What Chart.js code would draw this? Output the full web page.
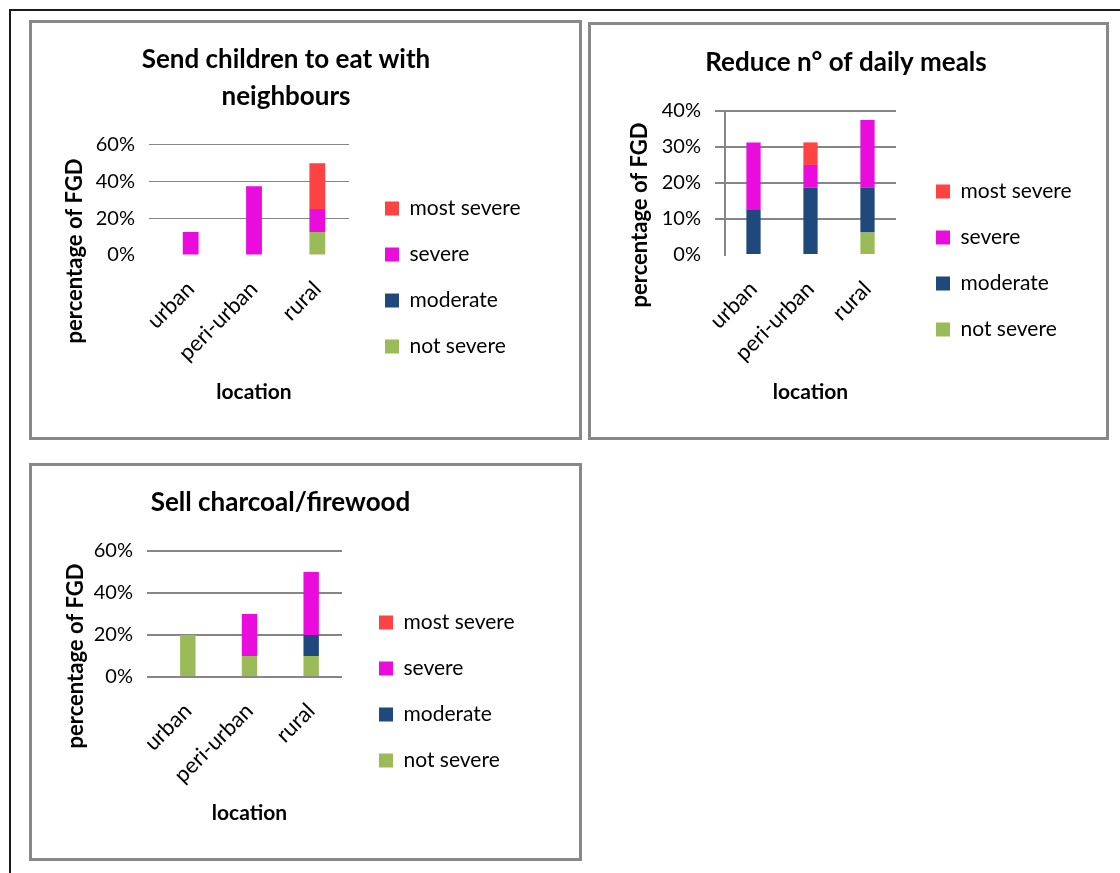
<!DOCTYPE html>
<html>
<head>
<meta charset="utf-8">
<script src="https://cdn.jsdelivr.net/npm/chart.js@4.4.1/dist/chart.umd.min.js"></script>
<style>
  html, body { margin: 0; padding: 0; background: #fff; }
  body { width: 1120px; height: 873px; position: relative; overflow: hidden; }
  .frame { position: absolute; left: 9px; top: 9px; width: 1200px; height: 900px;
           border-top: 2px solid #1a1a1a; border-left: 2px solid #1a1a1a; }
  .panel { position: absolute; border: 3px solid #888; background: #fff; }
  .panel canvas { display: block; }
  #p1 { left: 29px; top: 20px; width: 547px; height: 414px; }
  #p2 { left: 588px; top: 22px; width: 515px; height: 412px; }
  #p3 { left: 29px; top: 463px; width: 547px; height: 392px; }
</style>
</head>
<body>
<div class="frame"></div>
<div class="panel" id="p1"><canvas id="c1" width="547" height="414"></canvas></div>
<div class="panel" id="p2"><canvas id="c2" width="515" height="412"></canvas></div>
<div class="panel" id="p3"><canvas id="c3" width="547" height="392"></canvas></div>
<script>
  // categories and series
  const locations = ["urban", "peri-urban", "rural"];
  const severityLabels = ["not severe", "moderate", "severe", "most severe"];
  const severityColors = ["#9BBB59", "#1F497D", "#E90CDC", "#FF4343"];

  // Send children to eat with neighbours (% of FGD)
  const sendNotSevere = [0, 0, 12.5];
  const sendModerate = [0, 0, 0];
  const sendSevere = [12.5, 37.5, 12.5];
  const sendMostSevere = [0, 0, 25];

  // Reduce n° of daily meals
  const mealsNotSevere = [0, 0, 6.25];
  const mealsModerate = [12.5, 18.75, 12.5];
  const mealsSevere = [18.75, 6.25, 18.75];
  const mealsMostSevere = [0, 6.25, 0];

  // Sell charcoal/firewood
  const charcoalNotSevere = [20, 10, 10];
  const charcoalModerate = [0, 0, 10];
  const charcoalSevere = [0, 20, 30];
  const charcoalMostSevere = [0, 0, 0];

  // y tick settings
  const sendTicks = { max: 60, step: 20 };
  const mealsTicks = { max: 40, step: 10 };
  const charcoalTicks = { max: 60, step: 20 };

  const FONT = "Lato";
  const GRID = "#868686";

  // rotated y axis title, centred like Excel does it
  const yAxisTitle = {
    id: "yAxisTitle",
    afterDraw(chart, args, opts) {
      const ctx = chart.ctx;
      ctx.save();
      ctx.translate(opts.x, opts.y);
      ctx.rotate(-Math.PI / 2);
      ctx.font = "bold 22px " + FONT;
      ctx.fillStyle = "#000";
      ctx.textAlign = "center";
      ctx.textBaseline = "middle";
      ctx.fillText(opts.text, 0, 0);
      ctx.restore();
    },
  };

  // fixed legend width (default layout caps side boxes too narrow here)
  const legendWidth = {
    id: "legendWidth",
    afterInit(chart, args, opts) {
      const lg = chart.legend;
      if (!lg || !opts.width) return;
      const fit = lg.fit;
      lg.fit = function () {
        fit.call(this);
        this.width = opts.width;
      };
    },
  };

  function makeChart(id, o) {
    const series = [o.notSevere, o.moderate, o.severe, o.mostSevere];
    const ctx = document.getElementById(id).getContext("2d");
    return new Chart(ctx, {
      type: "bar",
      plugins: [yAxisTitle, legendWidth],
      data: {
        labels: locations,
        datasets: series.map((d, i) => ({
          label: severityLabels[i],
          data: d,
          backgroundColor: severityColors[i],
          borderWidth: 0,
          barPercentage: 0.25,
          categoryPercentage: 1,
        })),
      },
      options: {
        responsive: false,
        animation: false,
        layout: { padding: { left: 0, top: 0, bottom: 0, right: o.padRight } },
        plugins: {
          tooltip: { enabled: false },
          title: {
            display: true,
            text: o.title,
            color: "#000",
            font: { family: FONT, size: 26, weight: "bold", lineHeight: 1.42 },
            padding: { top: o.titleTop, bottom: 30 },
          },
          legend: {
            position: "right",
            align: "start",
            reverse: true,
            title: { display: true, text: " ", font: { size: 10, lineHeight: 1 }, padding: { top: o.legendTop, bottom: 0 } },
            labels: {
              boxWidth: 14,
              boxHeight: 14,
              padding: 25,
              color: "#000",
              font: { family: FONT, size: 21 },
            },
          },
          legendWidth: { width: o.legendW },
          yAxisTitle: { text: "percentage of FGD", x: o.yTitleX, y: o.yTitleY },
        },
        scales: {
          x: {
            stacked: true,
            grid: { display: false, drawTicks: false },
            border: { display: false },
            ticks: {
              autoSkip: false,
              minRotation: 45,
              maxRotation: 45,
              padding: 21,
              color: "#000",
              font: { family: FONT, size: 22 },
            },
            title: {
              display: true,
              text: "location",
              color: "#000",
              font: { family: FONT, size: 21, weight: "bold" },
              padding: { top: 0, bottom: 32 },
            },
            afterFit: (s) => { s.height = o.xHeight; },
          },
          y: {
            stacked: true,
            min: 0,
            max: o.ticks.max,
            grid: {
              color: (c) => (c.tick && c.tick.value === 0 && !o.zeroLine ? "rgba(0,0,0,0)" : GRID),
              lineWidth: o.gridWidth,
              drawTicks: true,
              tickLength: 10,
            },
            border: { display: o.axisLine, color: GRID, width: 2 },
            ticks: {
              stepSize: o.ticks.step,
              padding: 14,
              color: "#000",
              font: { family: FONT, size: 20 },
              callback: (v) => v + "%",
            },
            afterFit: (s) => { s.width = o.yWidth; },
          },
          gap: {
            type: "linear",
            position: "right",
            grid: { display: false, drawTicks: false },
            border: { display: false },
            ticks: { display: false },
            afterFit: (s) => { s.width = o.gapWidth; },
          },
        },
      },
    });
  }

  makeChart("c1", {
    title: ["Send children to eat with", "neighbours"],
    notSevere: sendNotSevere, moderate: sendModerate, severe: sendSevere, mostSevere: sendMostSevere,
    ticks: sendTicks,
    titleTop: 18, padRight: 39, legendW: 180, legendTop: 140, gapWidth: 11,
    yWidth: 127, xHeight: 182, yTitleX: 43, yTitleY: 228,
    gridWidth: 1, zeroLine: false, axisLine: false,
  });

  makeChart("c2", {
    title: "Reduce n° of daily meals",
    notSevere: mealsNotSevere, moderate: mealsModerate, severe: mealsSevere, mostSevere: mealsMostSevere,
    ticks: mealsTicks,
    titleTop: 19, padRight: 5, legendW: 190, legendTop: 121, gapWidth: 15,
    yWidth: 134, xHeight: 182, yTitleX: 49, yTitleY: 190,
    gridWidth: 2, zeroLine: false, axisLine: true,
  });

  makeChart("c3", {
    title: "Sell charcoal/firewood",
    notSevere: charcoalNotSevere, moderate: charcoalModerate, severe: charcoalSevere, mostSevere: charcoalMostSevere,
    ticks: charcoalTicks,
    titleTop: 18, padRight: 50, legendW: 175, legendTop: 111, gapWidth: 12,
    yWidth: 125, xHeight: 181, yTitleX: 44, yTitleY: 190,
    gridWidth: 2, zeroLine: true, axisLine: false,
  });
</script>
</body>
</html>
